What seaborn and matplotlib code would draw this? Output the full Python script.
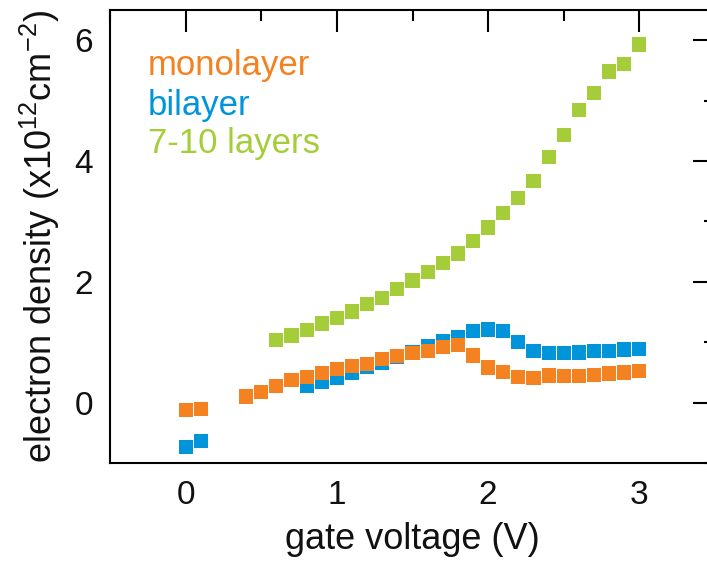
import numpy as np
import pandas as pd
import matplotlib
matplotlib.use("Agg")
import matplotlib.pyplot as plt
import seaborn as sns
from matplotlib.ticker import MultipleLocator

# ---- data ----
series_names = ["monolayer", "bilayer", "7-10 layers"]
series_colors = ["#F58220", "#0095DA", "#A5CD39"]

mono_v = [0.0, 0.1, 0.4, 0.5, 0.6, 0.7, 0.8, 0.9, 1.0, 1.1, 1.2, 1.3, 1.4, 1.5,
          1.6, 1.7, 1.8, 1.9, 2.0, 2.1, 2.2, 2.3, 2.4, 2.5, 2.6, 2.7, 2.8, 2.9, 3.0]
mono_n = [-0.12, -0.10, 0.10, 0.18, 0.27, 0.37, 0.42, 0.49, 0.56, 0.61, 0.64, 0.72,
          0.77, 0.82, 0.86, 0.92, 0.95, 0.78, 0.58, 0.51, 0.43, 0.41, 0.45, 0.44,
          0.44, 0.46, 0.48, 0.50, 0.52]

bi_v = [0.0, 0.1, 0.8, 0.9, 1.0, 1.1, 1.2, 1.3, 1.4, 1.5, 1.6, 1.7, 1.8, 1.9, 2.0,
        2.1, 2.2, 2.3, 2.4, 2.5, 2.6, 2.7, 2.8, 2.9, 3.0]
bi_n = [-0.73, -0.64, 0.28, 0.34, 0.41, 0.50, 0.59, 0.66, 0.75, 0.84, 0.93, 1.01,
        1.09, 1.18, 1.21, 1.18, 1.00, 0.86, 0.82, 0.82, 0.83, 0.85, 0.86, 0.88, 0.89]

multi_v = [0.6, 0.7, 0.8, 0.9, 1.0, 1.1, 1.2, 1.3, 1.4, 1.5, 1.6, 1.7, 1.8, 1.9,
           2.0, 2.1, 2.2, 2.3, 2.4, 2.5, 2.6, 2.7, 2.8, 2.9, 3.0]
multi_n = [1.04, 1.11, 1.20, 1.31, 1.40, 1.51, 1.63, 1.73, 1.88, 2.02, 2.16, 2.31,
           2.47, 2.68, 2.90, 3.14, 3.39, 3.67, 4.07, 4.43, 4.84, 5.12, 5.48, 5.61, 5.93]

x_ticks = [0, 1, 2, 3]
y_ticks = [0, 2, 4, 6]

# draw order: multilayer, bilayer, monolayer (monolayer on top)
df = pd.concat([
    pd.DataFrame({"V": multi_v, "n": multi_n, "sample": series_names[2]}),
    pd.DataFrame({"V": bi_v, "n": bi_n, "sample": series_names[1]}),
    pd.DataFrame({"V": mono_v, "n": mono_n, "sample": series_names[0]}),
], ignore_index=True)

sns.set_theme(style="white")
plt.rcParams["font.family"] = ["Liberation Sans", "DejaVu Sans"]
plt.rcParams["mathtext.fontset"] = "custom"
plt.rcParams["mathtext.rm"] = "Liberation Sans"
plt.rcParams["mathtext.it"] = "Liberation Sans:italic"
plt.rcParams["mathtext.bf"] = "Liberation Sans:bold"

fig = plt.figure(figsize=(7.07, 5.65), dpi=100)
ax = fig.add_axes([110 / 707, 102 / 565, 605 / 707, 453 / 565])

palette = dict(zip(series_names, series_colors))
sns.scatterplot(data=df, x="V", y="n", hue="sample", palette=palette,
                marker="s", s=105, linewidth=0, legend=False, ax=ax)

ax.set_xlim(-0.5, 3.5)
ax.set_ylim(-1, 6.5)
ax.set_xticks(x_ticks)
ax.set_yticks(y_ticks)
ax.xaxis.set_minor_locator(MultipleLocator(0.5))
ax.yaxis.set_minor_locator(MultipleLocator(1))

for s in ax.spines.values():
    s.set_color("black")
    s.set_linewidth(1.5)

ax.tick_params(axis="both", which="both", direction="in", top=True, right=True,
               color="black", width=1.5, labelsize=24, pad=12, labelcolor="#111111")
ax.tick_params(axis="both", which="major", length=16)
ax.tick_params(axis="both", which="minor", length=8)

ax.set_xlabel("gate voltage (V)", fontsize=26, labelpad=8, color="#111111")
ax.set_ylabel(r"electron density (x10$^{12}$cm$^{-2}$)", fontsize=26,
              labelpad=9, color="#111111")

ybase = [0.857, 0.768, 0.684]
for name, col, yb in zip(series_names, series_colors, ybase):
    ax.text(0.063, yb, name, color=col, fontsize=25, transform=ax.transAxes,
            ha="left", va="baseline")

fig.savefig("out.png", dpi=100)
